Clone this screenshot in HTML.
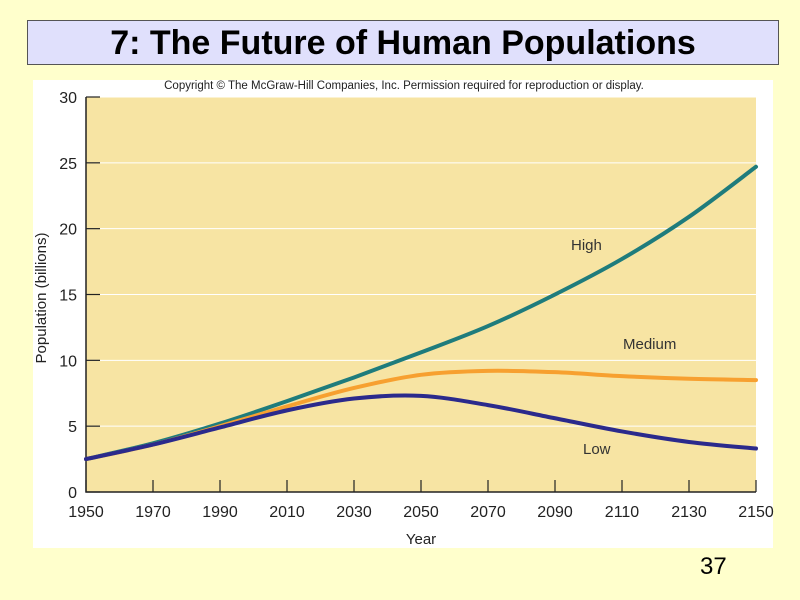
<!DOCTYPE html>
<html><head><meta charset="utf-8"><style>
body{margin:0;background:#FFFFCC;width:800px;height:600px;overflow:hidden;font-family:"Liberation Sans",sans-serif}
#title{position:absolute;left:27px;top:20px;width:752px;height:45px;background:#E0E0FC;border:1px solid #555;box-sizing:border-box;text-align:center;font-weight:bold;font-size:34px;line-height:44px;color:#000}
#pg{position:absolute;left:700px;top:553px;font-size:24px}
svg{position:absolute;left:0;top:0}
</style></head><body>
<div id="title">7: The Future of Human Populations</div>
<div id="pg">37</div>
<svg width="800" height="600">
<rect x="33" y="80" width="740" height="468" fill="#fff"/>
<text x="404" y="89" font-size="11.5" text-anchor="middle" fill="#222">Copyright © The McGraw-Hill Companies, Inc. Permission required for reproduction or display.</text>
<g id="g"></g>
</svg>
<script>
const years=[1950,1970,1990,2010,2030,2050,2070,2090,2110,2130,2150];
const high=[2.5,3.7,5.2,6.9,8.7,10.6,12.6,15.0,17.7,20.9,24.7];
const medium=[2.5,3.6,5.0,6.5,7.9,8.9,9.2,9.1,8.8,8.6,8.5];
const low=[2.5,3.6,4.9,6.2,7.1,7.3,6.6,5.6,4.6,3.8,3.3];
const yTicks=[0,5,10,15,20,25,30];
const xTicks=[1950,1970,1990,2010,2030,2050,2070,2090,2110,2130,2150];
const L=86,R=756,T=97,B=492;
const sx=v=>L+(v-1950)/200*(R-L), sy=v=>B-v/30*(B-T);
const g=document.getElementById('g'),NS='http://www.w3.org/2000/svg';
function mk(t,a,txt){const e=document.createElementNS(NS,t);for(const k in a)e.setAttribute(k,a[k]);if(txt!=null)e.textContent=txt;g.appendChild(e);return e;}
let e=mk('rect',{x:L,y:T,width:R-L,height:B-T,fill:'#F7E4A3'});


yTicks.forEach(v=>{
 if(v>0){e=mk('line',{x1:L,x2:R,y1:sy(v),y2:sy(v),stroke:'#fff','stroke-width':1});
 
 }
 e=mk('line',{x1:L,x2:L+14,y1:sy(v),y2:sy(v),stroke:'#222','stroke-width':1.2});
 
 
 e=mk('text',{x:L-9,y:sy(v)+6,'font-size':16,'text-anchor':'end',fill:'#222'},v);
 
 
});
xTicks.forEach(v=>{
 e=mk('line',{x1:sx(v),x2:sx(v),y1:B,y2:B-12,stroke:'#222','stroke-width':1.2});
 
 
 e=mk('text',{x:sx(v),y:B+25,'font-size':16,'text-anchor':'middle',fill:'#222'},v);
 
 
});
e=mk('path',{d:`M${L} ${T}V${B}H${R}`,fill:'none',stroke:'#222','stroke-width':1.5});


e=mk('text',{x:421,y:544,'font-size':15,'text-anchor':'middle',fill:'#222'},'Year');


e=mk('text',{x:46,y:298,'font-size':15,'text-anchor':'middle',fill:'#222',transform:'rotate(-90 46 298)'},'Population (billions)');


function path(vals){const p=years.map((y,i)=>[sx(y),sy(vals[i])]);let d=`M${p[0][0]} ${p[0][1]}`;
 for(let i=0;i<p.length-1;i++){const p0=p[Math.max(0,i-1)],p1=p[i],p2=p[i+1],p3=p[Math.min(p.length-1,i+2)];
 d+=`C${p1[0]+(p2[0]-p0[0])/6} ${p1[1]+(p2[1]-p0[1])/6} ${p2[0]-(p3[0]-p1[0])/6} ${p2[1]-(p3[1]-p1[1])/6} ${p2[0]} ${p2[1]}`;}return d;}
[[high,'#1F7C7C','high-line'],[medium,'#F7A030','medium-line'],[low,'#2B2A8C','low-line']].forEach(([v,c,n])=>{
 e=mk('path',{d:path(v),fill:'none',stroke:c,'stroke-width':4,'stroke-linecap':'round'});
 
 
});
[['High',571,250,'label-high'],['Medium',623,349,'label-medium'],['Low',583,454,'label-low']].forEach(([t,x,y,n])=>{
 e=mk('text',{x:x,y:y,'font-size':15,fill:'#333'},t);
 
 
});
</script>
</body></html>
